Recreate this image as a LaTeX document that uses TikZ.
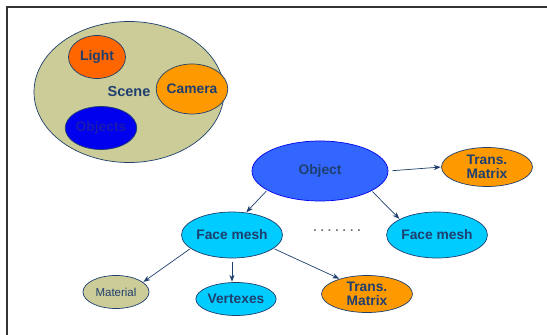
\documentclass[tikz,border=0pt]{standalone}
\usepackage{fontspec}
\setmainfont{Liberation Sans}
\usetikzlibrary{arrows.meta,shapes.geometric}
\definecolor{navy}{HTML}{1F3F6E}
\definecolor{khaki}{HTML}{CCCC99}
\definecolor{redorange}{HTML}{FF6600}
\definecolor{amber}{HTML}{FF9900}
\definecolor{deepblue}{HTML}{0000EE}
\definecolor{royal}{HTML}{3366FF}
\definecolor{skyblue}{HTML}{00CCFF}
\definecolor{objtext}{HTML}{1A1AB0}

\begin{document}
\begin{tikzpicture}[x=1pt,y=-1pt,>=Stealth,
 el/.style={ellipse,draw=navy,line width=0.7pt,inner sep=0pt,align=center,text=navy,font=\fontsize{13.8}{14.6}\selectfont\bfseries},
 a/.style={-{Stealth[length=2.4mm,width=1.8mm]},line width=0.7pt,navy,shorten <=1pt,shorten >=0.5pt}]
\useasboundingbox (0,0) rectangle (547,335);
\draw[line width=1.4pt,black!80] (7,335) -- (7,7) -- (547,7);

% scene and its parts
\node[el,fill=khaki,minimum width=190,minimum height=141] (scene) at (129,92) {};
\node[text=navy,font=\fontsize{14.5}{15}\selectfont\bfseries] (scenelbl) at (129,92) {Scene};
\node[el,fill=redorange,minimum width=57,minimum height=43] (light) at (97,57) {Light};
\node[el,fill=amber,minimum width=63,minimum height=50] (camera) at (192,89) {Camera};
\node[el,fill=deepblue,text=objtext,minimum width=63,minimum height=43] (objects) at (101,128) {Objects};

% object tree
\node[el,fill=royal,draw=deepblue,minimum width=136,minimum height=60] (obj) at (320,171) {Object};
\node[el,fill=amber,minimum width=91,minimum height=39] (trans) at (487,167) {Trans.\\Matrix};
\node[el,fill=skyblue,minimum width=101,minimum height=46] (mesha) at (232,235) {Face mesh};
\node[el,fill=skyblue,minimum width=100,minimum height=46] (meshb) at (437,235) {Face mesh};
\node[text=gray!70!navy,font=\fontsize{12}{12}\selectfont\bfseries] (dots) at (337,231) {.\,\,.\,\,.\,\,.\,\,.\,\,.\,\,.};
\node[el,fill=khaki,font=\fontsize{11.5}{12}\selectfont,minimum width=66,minimum height=33] (material) at (116,292) {Material};
\node[el,fill=skyblue,minimum width=66,minimum height=33] (vertex) at (236,299) {Vertexes};
\node[el,fill=amber,minimum width=91,minimum height=37] (transb) at (367,294) {Trans.\\Matrix};

\draw[a,shorten <=4pt] (obj.east) -- (trans.west);
\draw[a] (obj.200) -- (mesha.58);
\draw[a] (obj.339) -- (meshb.157);
\draw[a] (mesha.198) -- (material.20);
\draw[a,shorten <=4pt] (mesha.south) -- (vertex.north -| mesha.south);
\draw[a] (mesha.342) -- (transb.151);
\end{tikzpicture}
\end{document}
